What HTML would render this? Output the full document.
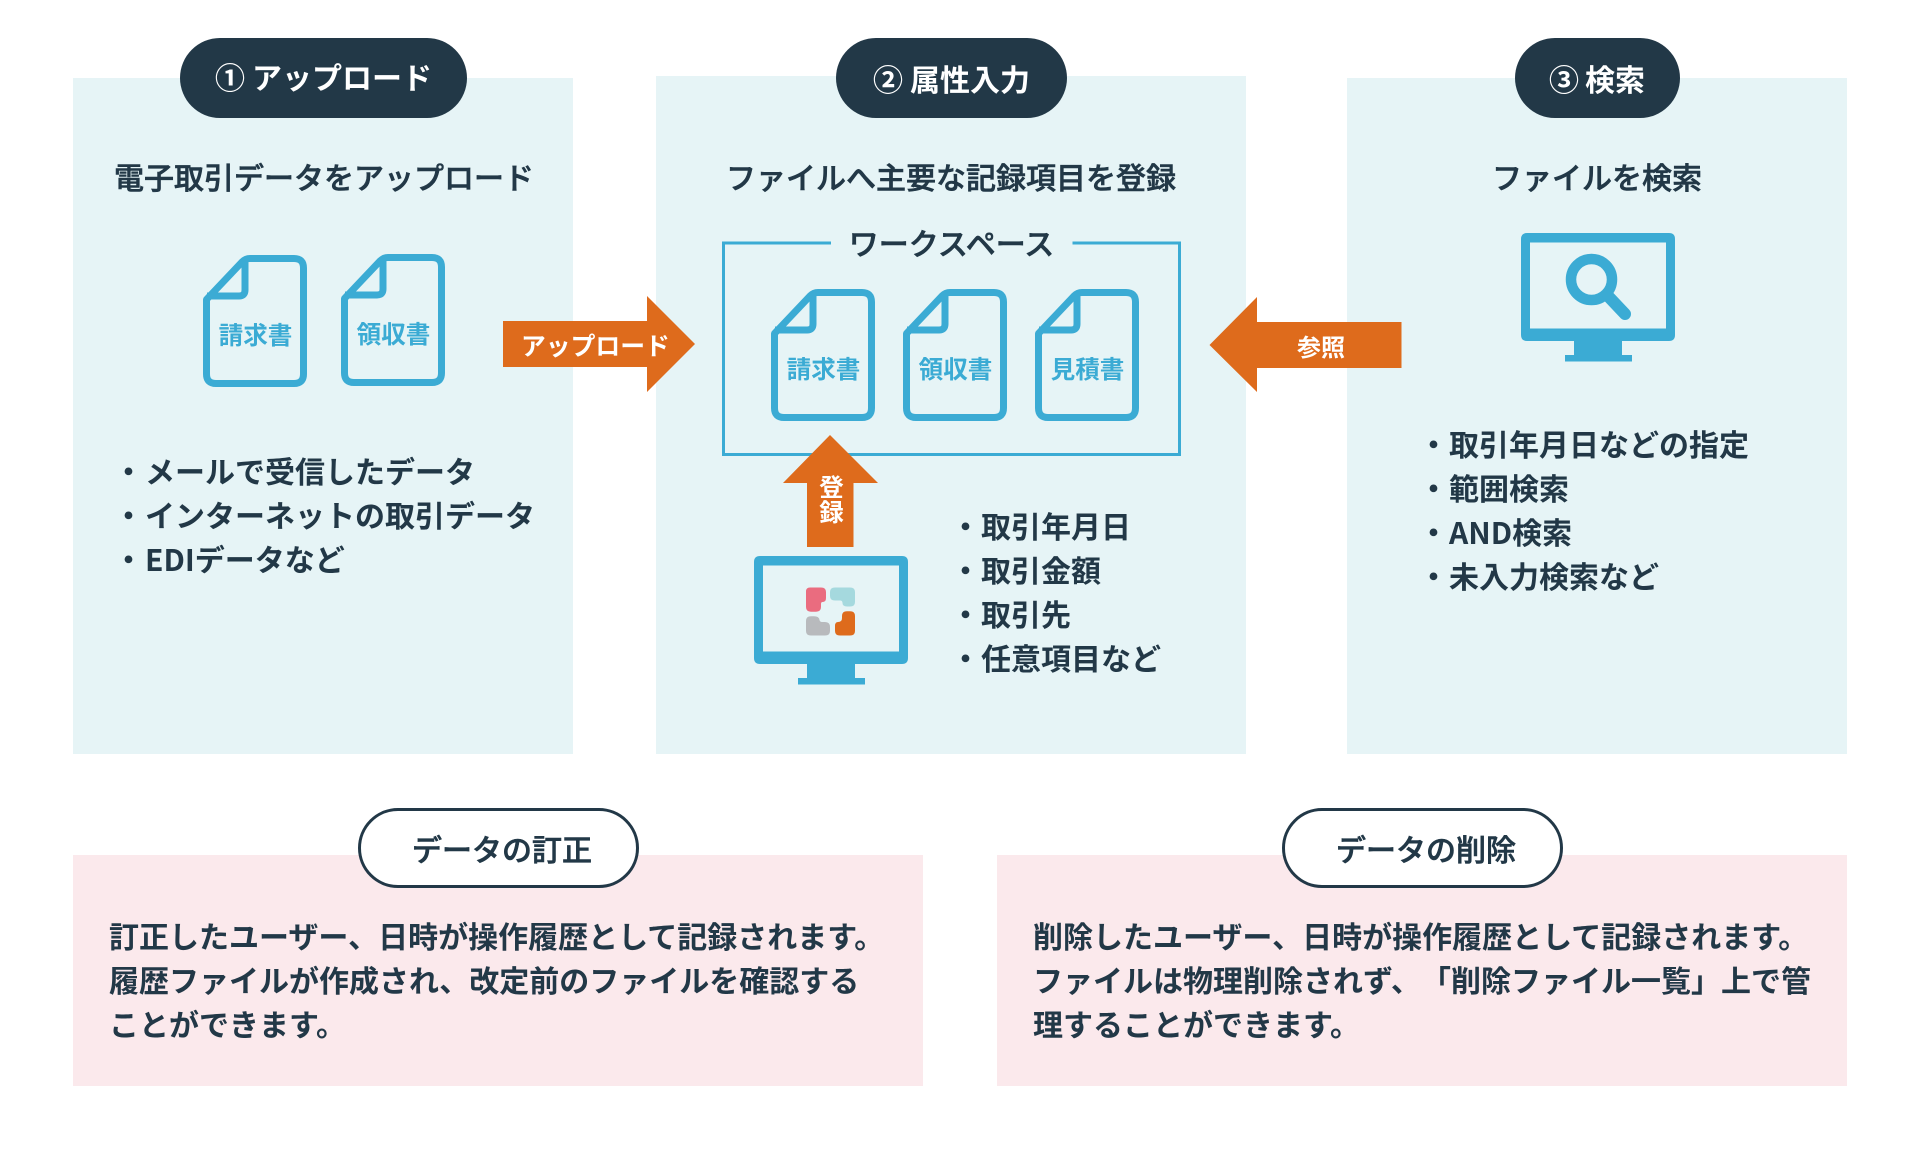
<!DOCTYPE html>
<html lang="ja"><head><meta charset="utf-8"><style>
html,body{margin:0;padding:0;background:#fff;width:1920px;height:1150px;overflow:hidden}
svg{display:block}
text{font-family:"Noto Sans CJK JP","Liberation Sans",sans-serif;font-size:30px;fill:#223847;font-weight:500;stroke:#223847;stroke-width:.6px;text-spacing-trim:space-all}
.b{font-weight:700;stroke:none}
.w{fill:#fff;font-weight:700;stroke:none}
.d{fill:#3BABD4;font-weight:700;font-size:24.6px;text-anchor:middle;stroke:none}
.m{text-anchor:middle}
</style></head><body>
<svg width="1920" height="1150" viewBox="0 0 1920 1150" xmlns="http://www.w3.org/2000/svg">
<defs>
<g id="doc"><path d="M3.500 44.500 L39 7 Q42.500 3.500 47 3.500 H91 Q100.500 3.500 100.500 13 V119 Q100.500 128.500 91 128.500 H13 Q3.500 128.500 3.500 119 Z M42 4 V35 Q42 41 36 41 H4" fill="none" stroke="#3BABD4" stroke-width="7" stroke-linejoin="round"/></g>
<g id="mon"><path fill-rule="evenodd" fill="#3BABD4" d="M6 0 H148 Q154 0 154 6 V102 Q154 108 148 108 H101 V122 H111 V128.500 H44 V122 H53 V108 H6 Q0 108 0 102 V6 Q0 0 6 0 Z M9 9.500 V95.500 H145 V9.500 Z"/></g>
</defs>
<rect x="73" y="78" width="500" height="676" fill="#E6F4F6"/>
<rect x="656" y="76" width="590" height="678" fill="#E6F4F6"/>
<rect x="1347" y="78" width="500" height="676" fill="#E6F4F6"/>
<rect x="73" y="855" width="850" height="231" fill="#FBE9EC"/>
<rect x="997" y="855" width="850" height="231" fill="#FBE9EC"/>

<rect x="180" y="38" width="287" height="80" rx="40" fill="#223847"/>
<rect x="836" y="38" width="231" height="80" rx="40" fill="#223847"/>
<rect x="1515" y="38" width="165" height="80" rx="40" fill="#223847"/>
<text class="w" x="215" y="89">①</text><text class="w" x="252" y="89">アップロード</text>
<text class="w" x="873" y="91">②</text><text class="w" x="910" y="91">属性入力</text>
<text class="w" x="1549" y="91">③</text><text class="w" x="1585" y="91">検索</text>

<text class="m" x="324" y="189">電子取引データをアップロード</text>
<text class="m" x="951" y="189">ファイルへ主要な記録項目を登録</text>
<text class="m" x="1597" y="189">ファイルを検索</text>

<use href="#doc" x="203" y="255"/><text class="d" x="255.500" y="344">請求書</text>
<use href="#doc" x="341" y="254"/><text class="d" x="393.500" y="343">領収書</text>

<path d="M831 243 H723.500 V454.500 H1179.500 V243 H1072.500" fill="none" stroke="#3BABD4" stroke-width="3"/>
<text class="m" x="951.500" y="255">ワークスペース</text>
<use href="#doc" x="771" y="289"/><text class="d" x="823.500" y="378">請求書</text>
<use href="#doc" x="903" y="289"/><text class="d" x="955.500" y="378">領収書</text>
<use href="#doc" x="1035" y="289"/><text class="d" x="1087.500" y="378">見積書</text>

<path d="M503 321 H647 V296 L695 344 L647 392 V367 H503 Z" fill="#DE6B1C"/>
<text class="w" x="521" y="355" style="font-size:24.800px">アップロード</text>
<path d="M1401.500 322 H1257 V297 L1209.500 345 L1257 392 V368 H1401.500 Z" fill="#DE6B1C"/>
<text class="w" x="1297" y="356" style="font-size:24px">参照</text>
<path d="M830 435 L878 483 H853.500 V547 H807 V483 H783 Z" fill="#DE6B1C"/>
<text class="w m" x="831.500" y="496" style="font-size:24.500px">登</text>
<text class="w m" x="831.500" y="521" style="font-size:24.500px">録</text>

<use href="#mon" x="754" y="556"/>
<path d="M810 587.500 H821 Q826 587.500 826 592 V598 Q826 602 822.500 602 Q821 602 821 604 V607 Q821 611.700 816 611.700 H811 Q806 611.700 806 607 V591.500 Q806 587.500 810 587.500Z" fill="#EA6C7F"/>
<path d="M835 587.500 H850 Q855 587.500 855 592 V602 Q855 606.500 850 606.500 H847 Q842.500 606.500 842.500 603 Q842.500 600.500 840 600.500 H835 Q830 600.500 830 596 V592 Q830 587.500 835 587.500Z" fill="#A5D9DE"/>
<path d="M811 616.300 H814 Q819 616.300 819.500 620 Q820 622 822 622 H825 Q830 622 830 627 V631 Q830 635.500 825 635.500 H811 Q806 635.500 806 631 V621 Q806 616.300 811 616.300Z" fill="#B8BABD"/>
<path d="M847 611.300 H850 Q855 611.300 855 616 V631 Q855 635.500 850 635.500 H840 Q835 635.500 835 631 V626 Q835 622 838 622 Q842 622 842 618 V616 Q842 611.300 847 611.300Z" fill="#DE6B1C"/>

<use href="#mon" x="1521" y="233"/>
<circle cx="1591.500" cy="279.500" r="20.500" fill="none" stroke="#3BABD4" stroke-width="10.500"/>
<line x1="1608" y1="296" x2="1625" y2="314" stroke="#3BABD4" stroke-width="12" stroke-linecap="round"/>

<text class="b" x="113.500" y="483">・</text><text x="145" y="483" class="b">メールで受信したデータ</text>
<text class="b" x="113.500" y="527">・</text><text x="145" y="527" class="b">インターネットの取引データ</text>
<text class="b" x="113.500" y="571">・</text><text x="145" y="571" class="b">EDIデータなど</text>

<text class="b" x="950.500" y="538">・</text><text x="981" y="538" class="b">取引年月日</text>
<text class="b" x="950.500" y="582">・</text><text x="981" y="582" class="b">取引金額</text>
<text class="b" x="950.500" y="626">・</text><text x="981" y="626" class="b">取引先</text>
<text class="b" x="950.500" y="670">・</text><text x="981" y="670" class="b">任意項目など</text>

<text class="b" x="1418.500" y="456">・</text><text x="1449" y="456" class="b">取引年月日などの指定</text>
<text class="b" x="1418.500" y="500">・</text><text x="1449" y="500" class="b">範囲検索</text>
<text class="b" x="1418.500" y="544">・</text><text x="1449" y="544" class="b">AND検索</text>
<text class="b" x="1418.500" y="588">・</text><text x="1449" y="588" class="b">未入力検索など</text>

<rect x="359.500" y="809.500" width="278" height="77" rx="38.500" fill="#fff" stroke="#223847" stroke-width="3"/>
<rect x="1283.500" y="809.500" width="278" height="77" rx="38.500" fill="#fff" stroke="#223847" stroke-width="3"/>
<text x="412" y="861">データの訂正</text>
<text x="1336" y="861">データの削除</text>

<text class="b" x="109" y="948">訂正したユーザー、日時が操作履歴として記録されます。</text>
<text class="b" x="109" y="992">履歴ファイルが作成され、改定前のファイルを確認する</text>
<text class="b" x="109" y="1036">ことができます。</text>
<text class="b" x="1033" y="948">削除したユーザー、日時が操作履歴として記録されます。</text>
<text class="b" x="1033" y="992">ファイルは物理削除されず、</text><text class="b" x="1421" y="992">「削除ファイル一覧」上で管</text>
<text class="b" x="1033" y="1036">理することができます。</text>
</svg>
</body></html>
